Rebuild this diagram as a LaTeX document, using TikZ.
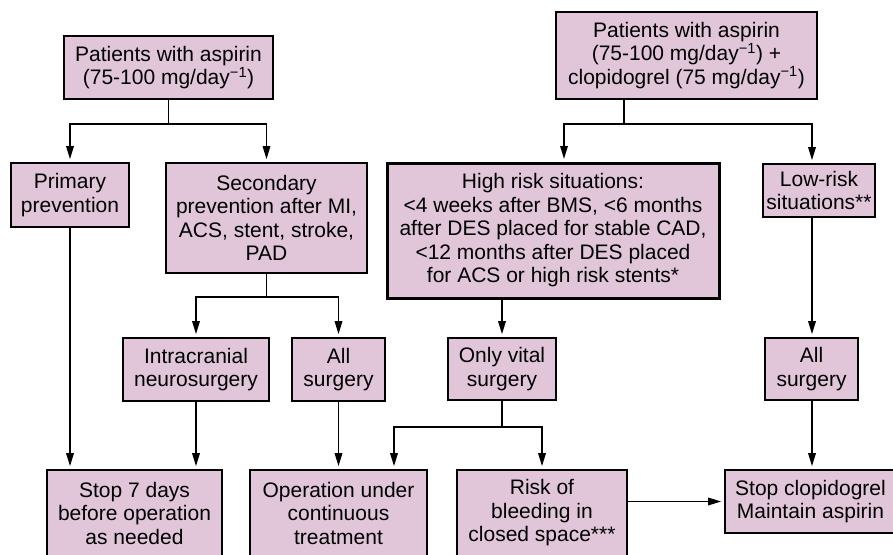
\documentclass[tikz,border=0pt]{standalone}
\usepackage{fontspec}
\setmainfont{Liberation Sans}
\usetikzlibrary{arrows.meta}
\definecolor{boxfill}{RGB}{225,198,218}
\begin{document}
\begin{tikzpicture}[x=1pt,y=-1pt,
  box/.style={draw=black, line width=2.6pt, fill=boxfill, align=center, inner sep=0pt,
    font=\fontsize{21}{23.5}\selectfont},
  conn/.style={line width=1.6pt},
  arr/.style={conn, shorten >=2.5pt, -{Triangle[length=13pt,width=7.5pt]}}]
\useasboundingbox (0,0) rectangle (893,554);
\clip (0,0) rectangle (893,554);
% nodes
\node[box, minimum width=209pt, minimum height=63pt] (A) at (168.5,67.5) {Patients with aspirin\\(75-100 mg/day\textsuperscript{−1})};
\node[box, minimum width=261pt, minimum height=87pt] (B) at (686.5,55.5) {Patients with aspirin\\(75-100 mg/day\textsuperscript{−1}) +\\clopidogrel (75 mg/day\textsuperscript{−1})};
\node[box, minimum width=118pt, minimum height=64pt] (P) at (70,195) {Primary\\prevention};
\node[box, minimum width=201pt, minimum height=110pt] (S) at (266.5,218) {Secondary\\prevention after MI,\\ACS, stent, stroke,\\PAD};
\node[box, line width=3pt, minimum width=332pt, minimum height=135pt] (H) at (553,230.5) {High risk situations:\\<4 weeks after BMS, <6 months\\after DES placed for stable CAD,\\<12 months after DES placed\\for ACS or high risk stents*};
\node[box, minimum width=112pt, minimum height=53pt] (L) at (819,190.5) {Low-risk\\situations**};
\node[box, minimum width=146pt, minimum height=63pt] (I) at (196,369.5) {Intracranial\\neurosurgery};
\node[box, minimum width=93pt, minimum height=63pt] (AS1) at (338.5,369.5) {All\\surgery};
\node[box, minimum width=108pt, minimum height=62pt] (V) at (502,369) {Only vital\\surgery};
\node[box, minimum width=93pt, minimum height=62pt] (AS2) at (811.5,369) {All\\surgery};
\node[box, minimum width=175pt, minimum height=86pt] (ST) at (134.5,513) {Stop 7 days\\before operation\\as needed};
\node[box, minimum width=177pt, minimum height=86pt] (OP) at (338.5,513) {Operation under\\continuous\\treatment};
\node[box, minimum width=170pt, minimum height=86pt] (RB) at (542,513) {Risk of\\bleeding in\\closed space***};
\node[box, minimum width=171pt, minimum height=63pt] (SC) at (810.5,501.5) {Stop clopidogrel\\Maintain aspirin};
% junction coordinates
\coordinate (yA) at (0,124);
\coordinate (s1) at (267,297);
\coordinate (b1) at (624,124);
\coordinate (hx) at (564,0);
\coordinate (rx) at (812,0);
\coordinate (v1) at (502,427);
\coordinate (ox) at (394,0);
% connectors
\draw[conn] (A.south) -- (A.south |- yA);
\draw[arr] (A.south |- yA) -| (P.north);
\draw[arr] (A.south |- yA) -| (S.north);
\draw[conn] (b1 |- B.south) -- (b1);
\draw[arr] (b1) -| (hx |- H.north);
\draw[arr] (b1) -| (rx |- L.north);
\draw[conn] (S.south) -- (S.south |- s1);
\draw[arr] (S.south |- s1) -| (I.north);
\draw[arr] (S.south |- s1) -| (AS1.north);
\draw[arr] (P.south) -- (P.south |- ST.north);
\draw[arr] (I.south) -- (I.south |- ST.north);
\draw[arr] (AS1.south) -- (AS1.south |- OP.north);
\draw[arr] (V.north |- H.south) -- (V.north);
\draw[conn] (V.south) -- (v1);
\draw[arr] (v1) -| (ox |- OP.north);
\draw[arr] (v1) -| (RB.north);
\draw[arr] (rx |- L.south) -- (rx |- AS2.north);
\draw[arr] (rx |- AS2.south) -- (rx |- SC.north);
\draw[arr] (SC.west -| RB.east) -- (SC.west);
\end{tikzpicture}
\end{document}
